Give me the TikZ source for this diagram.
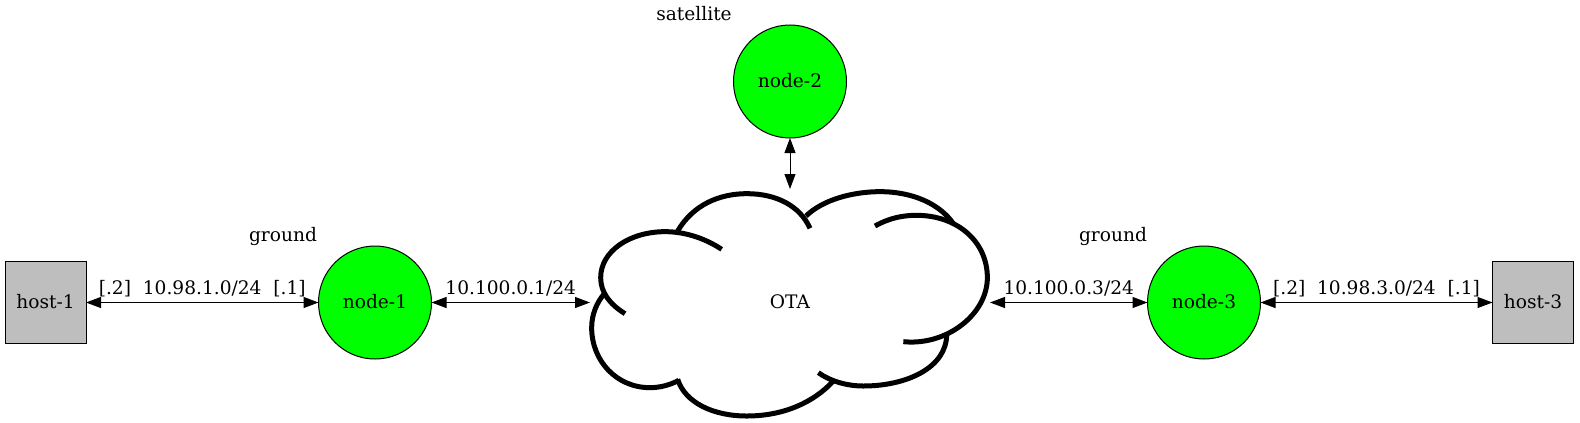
\documentclass[tikz,border=0pt]{standalone}
\usepackage{fontspec}
\setmainfont{DejaVu Serif}
\usetikzlibrary{arrows.meta}
\definecolor{hostgray}{HTML}{BEBEBE}
\newcommand{\lifted}[1]{\raisebox{1pt}{#1}}
\tikzset{
  lbl/.style={font=\fontsize{9.3}{12}\selectfont,inner sep=0pt,text=black},
  routernode/.style={circle,draw=black,line width=.5pt,fill=green,minimum size=56.5pt,inner sep=0pt,outer sep=0pt,font=\fontsize{9.3}{12}\selectfont},
  hostnode/.style={rectangle,draw=black,line width=.5pt,fill=hostgray,minimum width=40.5pt,minimum height=41pt,inner sep=0pt,outer sep=0pt,font=\fontsize{9.3}{12}\selectfont},
  cloudnode/.style={rectangle,minimum width=200pt,minimum height=113.5pt,inner sep=0pt,outer sep=0pt,font=\fontsize{9.3}{12}\selectfont},
  link/.style={{Triangle[length=7.5pt,width=5.5pt]}-{Triangle[length=7.5pt,width=5.5pt]},line width=.5pt,black},
  edgelabel/.style={midway,anchor=base,lbl,yshift=4pt},
  cloudarc/.style={line width=2.5pt,black,line cap=butt}
}
\begin{document}
\begin{tikzpicture}[x=.5pt,y=-.5pt]
\useasboundingbox (0,0) rectangle (1580,423);
\node[hostnode] (h1) at (45.5,302.5) {\lifted{host-1}};
\node[routernode] (n1) at (375,302.5) {\lifted{node-1}};
\node[routernode] (n2) at (790,81.5) {\lifted{node-2}};
\node[routernode] (n3) at (1204,302.5) {\lifted{node-3}};
\node[hostnode] (h3) at (1533,302.5) {\lifted{host-3}};
\node[cloudnode] (ota) at (790,302.5) {\lifted{OTA}};
\begin{scope}[shift={(570,171)},x=.16667pt,y=-.16667pt]
\draw[cloudarc] (323,180) .. controls (370,100) and (450,68) .. (530,68) .. controls (620,68) and (690,105) .. (720,172);
\draw[cloudarc] (708,135) .. controls (760,85) and (850,62) .. (930,62) .. controls (1030,62) and (1110,100) .. (1150,158);
\draw[cloudarc] (915,165) .. controls (960,140) and (1000,133) .. (1040,133) .. controls (1160,133) and (1252,210) .. (1252,320) .. controls (1252,430) and (1130,525) .. (1000,512);
\draw[cloudarc] (1130,490) .. controls (1130,590) and (1010,645) .. (880,645) .. controls (830,645) and (780,630) .. (745,605);
\draw[cloudarc] (790,630) .. controls (730,695) and (640,735) .. (530,735) .. controls (430,735) and (345,695) .. (323,625);
\draw[cloudarc] (326,628) .. controls (300,642) and (270,650) .. (240,650) .. controls (140,650) and (65,570) .. (65,470) .. controls (65,430) and (80,395) .. (103,368);
\draw[cloudarc] (165,428) .. controls (120,400) and (92,365) .. (92,320) .. controls (92,240) and (180,182) .. (285,182) .. controls (350,182) and (410,205) .. (455,235);
\end{scope}
\draw[link] (h1.east) -- node[edgelabel] {[.2]\ \ 10.98.1.0/24\ \ [.1]} (n1.west);
\draw[link] (n1.east) -- node[edgelabel] {10.100.0.1/24} (ota.west);
\draw[link] (n2.south) -- (ota.north);
\draw[link] (ota.east) -- node[edgelabel] {10.100.0.3/24} (n3.west);
\draw[link] (n3.east) -- node[edgelabel] {[.2]\ \ 10.98.3.0/24\ \ [.1]} (h3.west);
\node[lbl] (g1) at (283,236) {ground};
\node[lbl] (g3) at (1113,236) {ground};
\node[lbl] (sat) at (694,14) {satellite};
\end{tikzpicture}
\end{document}
